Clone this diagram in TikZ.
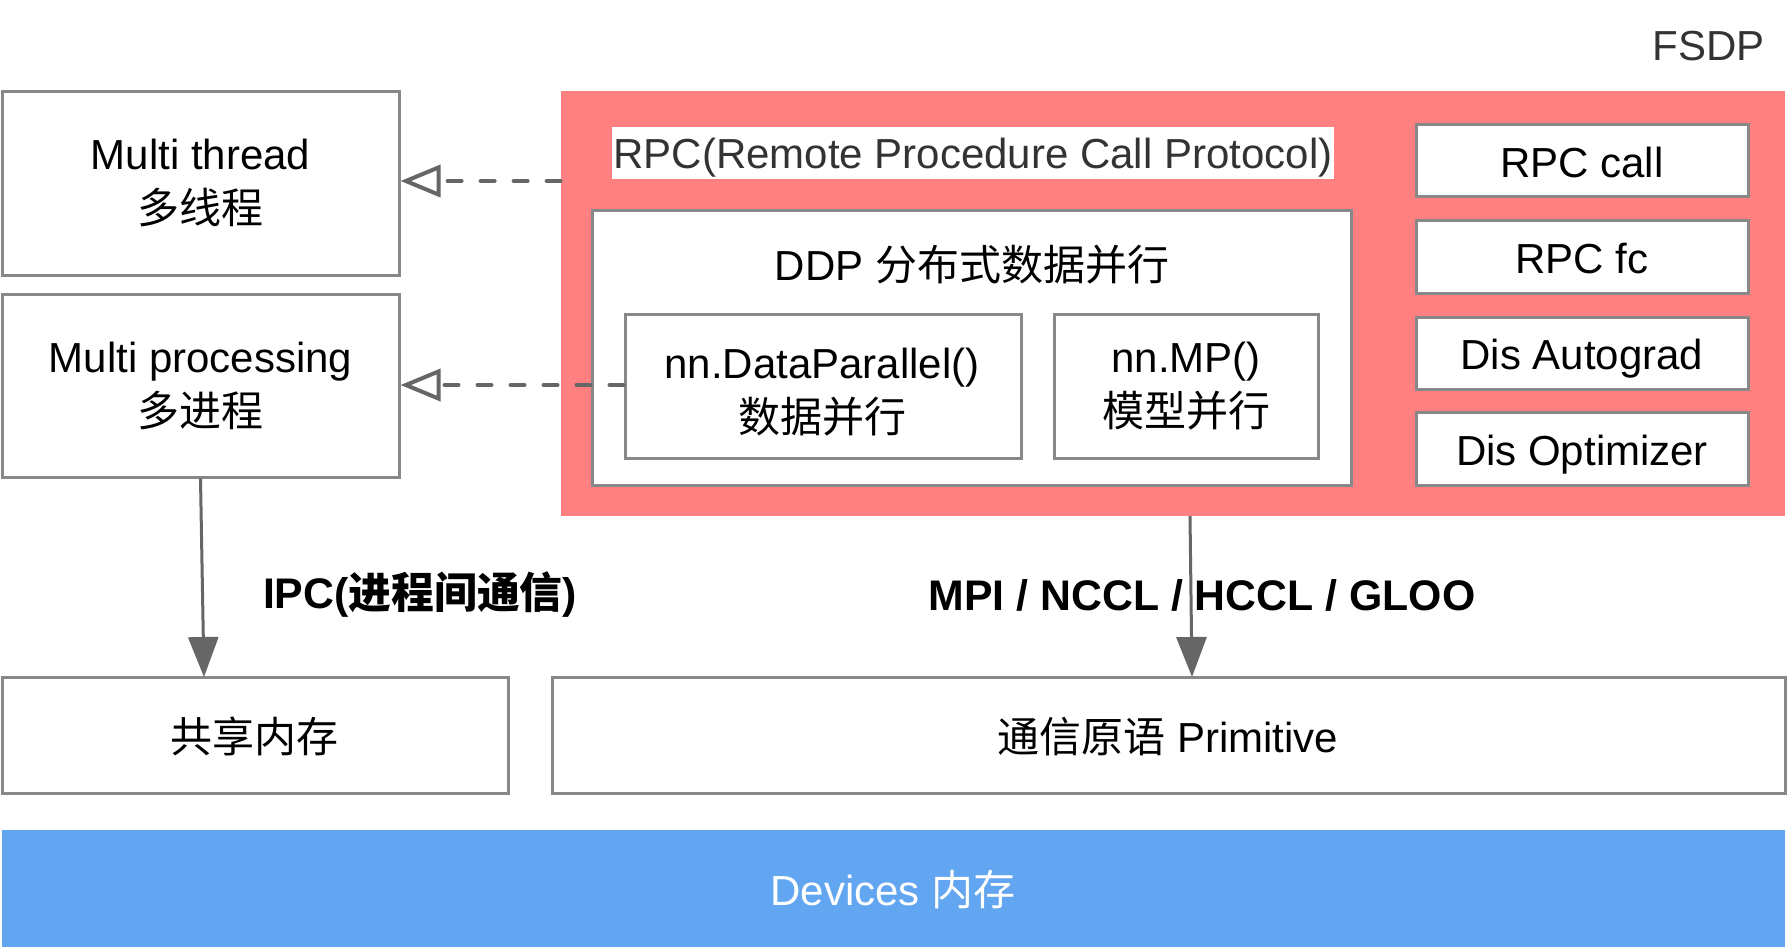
\documentclass[tikz,border=0pt]{standalone}
\usepackage{fontspec}
\setmainfont{Liberation Sans}
\newfontfamily\cjk{Noto Sans CJK SC}
\usetikzlibrary{arrows.meta,fit}
\definecolor{pinkbg}{RGB}{255,128,128}
\definecolor{bluebg}{RGB}{98,165,240}
\definecolor{edgegray}{RGB}{136,136,136}
\definecolor{arrgray}{RGB}{102,102,102}
\definecolor{dtext}{RGB}{51,51,51}
\begin{document}
\begin{tikzpicture}[x=0.5pt,y=-0.5pt,
  every node/.style={font=\fontsize{21}{27}\selectfont},
  box/.style={draw=edgegray, line width=1.5pt, fill=white, inner sep=0pt},
  plain/.style={inner sep=0pt, align=center},
  oneline/.style={inner sep=0pt, text height=15pt, text depth=0pt},
  boldlabel/.style={oneline, font=\fontsize{21.4}{27}\selectfont\bfseries},
  solidarrow/.style={draw=arrgray, line width=1.5pt, -{Triangle[length=20pt,width=15pt]}},
  dasharrow/.style={draw=arrgray, line width=2pt, dash pattern=on 7pt off 9.5pt, line cap=round,
    -{Triangle[open,length=20pt,width=16pt,fill=white]}}]
\useasboundingbox (0,0) rectangle (1791,949);

% FSDP region
\node[fill=pinkbg, inner sep=0pt, fit={(561,91) (1785,516)}] (fsdp) {};
\node[oneline, text=dtext, anchor=east] (fsdplabel) at (1765,45) {FSDP};

% left boxes
\node[box, fit={(2,91) (399,275)}] (mt) {};
\node[plain] (mttext) at (mt.center) {Multi thread\\{\cjk 多线程}};
\node[box, fit={(2,294) (399,477)}] (mp) {};
\node[plain] (mptext) at (mp.center) {Multi processing\\{\cjk 多进程}};

% RPC label
\node[fill=white, text=dtext, inner xsep=1pt, inner ysep=0pt, text height=15pt, text depth=0pt, minimum height=26pt] (rpc) at (973,153) {RPC(Remote Procedure Call Protocol)};

% DDP
\node[box, fit={(592,210) (1351,485)}] (ddp) {};
\node[plain] (ddptitle) at (972,265) {DDP {\cjk 分布式数据并行}};
\node[box, fit={(625,314) (1021,458)}] (dp) {};
\node[plain] (dptext) at (822,392) {nn.DataParallel()\\{\cjk 数据并行}};
\node[box, fit={(1054,314) (1318,458)}] (mpn) {};
\node[plain] (mpntext) at (1186,386) {nn.MP()\\{\cjk 模型并行}};

% right column
\node[box, fit={(1416,124) (1748,196)}] (rcall) {};
\node[oneline] (rcalltext) at (1582,162) {RPC call};
\node[box, fit={(1416,220) (1748,293)}] (rfc) {};
\node[oneline] (rfctext) at (1582,258) {RPC fc};
\node[box, fit={(1416,317) (1748,389)}] (dauto) {};
\node[oneline] (dautotext) at (1582,354) {Dis Autograd};
\node[box, fit={(1416,412) (1748,485)}] (dopt) {};
\node[oneline] (dopttext) at (1582,450) {Dis Optimizer};

% bottom boxes
\node[box, fit={(2,677) (508,793)}] (shm) {};
\node[oneline] (shmtext) at (254,737) {{\cjk 共享内存}};
\node[box, fit={(552,677) (1785,793)}] (prim) {};
\node[oneline] (primtext) at (1168,737) {{\cjk 通信原语} Primitive};
\node[fill=bluebg, inner sep=0pt, fit={(2,830) (1785,947)}] (dev) {};
\node[oneline, text=white] (devtext) at (893,890) {Devices {\cjk 内存}};

% labels
\node[boldlabel] (ipc) at (420,593) {IPC({\cjk 进程间通信})};
\node[boldlabel] (mpi) at (1202,595) {MPI / NCCL / HCCL / GLOO};

% connectors
\coordinate (a1end) at (204,677);
\draw[solidarrow] (mp.south) -- (a1end);
\coordinate (a2start) at (1190,516);
\coordinate (a2end) at (1192,677);
\draw[solidarrow] (a2start) -- (a2end);
\draw[dasharrow] (fsdp.west |- 0,181) -- (mt.east |- 0,181);
\draw[dasharrow] (dp.west |- 0,385) -- (mp.east |- 0,385);
\end{tikzpicture}
\end{document}
